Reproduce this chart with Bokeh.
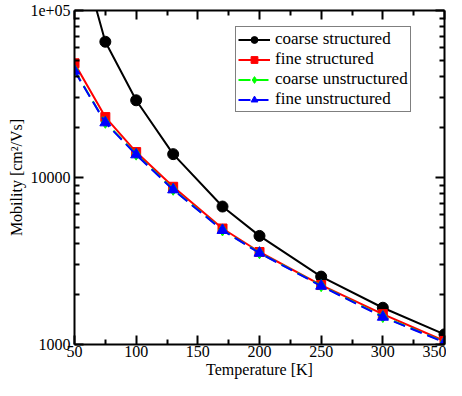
from bokeh.plotting import figure
from bokeh.models import (LinearAxis, LogAxis, FixedTicker, Range1d, Legend, LegendItem,
                          CustomJSTickFormatter)
from bokeh.embed import file_html
from bokeh.resources import INLINE

temps = [50, 75, 100, 130, 170, 200, 250, 300, 350]
coarse_structured = [300000, 65000, 29000, 13800, 6700, 4470, 2550, 1660, 1150]
fine_structured = [48300, 23000, 14200, 8800, 4950, 3580, 2270, 1520, 1050]
coarse_unstructured = [43800, 21400, 13800, 8500, 4850, 3540, 2250, 1470, 1035]
fine_unstructured = [43500, 21300, 13700, 8450, 4830, 3530, 2240, 1460, 1030]

x_ticks = [50, 100, 150, 200, 250, 300, 350]
x_minor = [75, 125, 175, 225, 275, 325]
y_ticks = [1000, 10000, 100000]
y_tick_labels = ["1000", "10000", "1e+05"]
y_minor = [m * d for d in (1000, 10000) for m in range(2, 10)]

FONT = "Liberation Serif"

p = figure(width=446, height=380, y_axis_type="log", output_backend="svg",
           toolbar_location=None, x_range=Range1d(50, 350), y_range=Range1d(1000, 100000),
           min_border_left=74, min_border_right=2, min_border_top=10, min_border_bottom=35)
p.xgrid.visible = False
p.ygrid.visible = False
p.outline_line_color = None
p.background_fill_color = "white"

r1 = p.line(temps, coarse_structured, line_color="black", line_width=2)
m1 = p.scatter(temps, coarse_structured, marker="circle", size=11, color="black")
r2 = p.line(temps, fine_structured, line_color="red", line_width=2)
m2 = p.scatter(temps, fine_structured, marker="square", size=9, color="red")
r3 = p.line(temps, coarse_unstructured, line_color="#00ff00", line_width=2, line_dash="12 6")
m3 = p.scatter(temps, coarse_unstructured, marker="diamond", size=12, color="#00ff00")
r4 = p.line(temps, fine_unstructured, line_color="blue", line_width=2, line_dash="12 6")
m4 = p.scatter(temps, fine_unstructured, marker="triangle", size=11, color="blue")

def style_axis(ax, labels=True):
    ax.axis_line_width = 2
    ax.axis_line_color = "black"
    ax.major_tick_in = 9
    ax.major_tick_out = 0
    ax.minor_tick_in = 5
    ax.minor_tick_out = 0
    ax.major_tick_line_width = 2
    ax.minor_tick_line_width = 2
    ax.major_label_text_font = FONT
    ax.major_label_text_font_size = "16px"
    ax.major_label_text_color = "black"
    ax.axis_label_text_font = FONT
    ax.axis_label_text_font_size = "16px"
    ax.axis_label_text_font_style = "normal"
    ax.axis_label_text_color = "black"
    if not labels:
        ax.formatter = CustomJSTickFormatter(code="return '';")
        ax.major_label_text_font_size = "1px"
        ax.major_label_standoff = 0

xt = FixedTicker(ticks=x_ticks, minor_ticks=x_minor)
yt = FixedTicker(ticks=y_ticks, minor_ticks=y_minor)

xa = p.xaxis[0]
xa.ticker = xt
xa.axis_label = "Temperature [K]"
xa.axis_label_standoff = 1
xa.major_label_standoff = 1
style_axis(xa)

ya = p.yaxis[0]
ya.ticker = yt
ya.major_label_overrides = {t: l for t, l in zip(y_ticks, y_tick_labels)}
ya.axis_label = "Mobility [cm\u00b2/Vs]"
ya.axis_label_standoff = 2
ya.major_label_standoff = 4
style_axis(ya)

top = LinearAxis(ticker=xt)
style_axis(top, labels=False)
p.add_layout(top, "above")
right = LogAxis(ticker=yt)
style_axis(right, labels=False)
p.add_layout(right, "right")

legend = Legend(items=[
    LegendItem(label="coarse structured", renderers=[r1, m1]),
    LegendItem(label="fine structured", renderers=[r2, m2]),
    LegendItem(label="coarse unstructured", renderers=[r3, m3]),
    LegendItem(label="fine unstructured", renderers=[r4, m4]),
], location=(161, 232))
legend.label_text_font = FONT
legend.label_text_font_size = "17px"
legend.label_text_color = "black"
legend.border_line_color = "black"
legend.border_line_width = 1.5
legend.background_fill_alpha = 1
legend.glyph_width = 32
legend.glyph_height = 17
legend.label_height = 17
legend.spacing = 0
legend.padding = 2
legend.margin = 0
legend.label_standoff = 5
p.add_layout(legend)

open("out.html", "w").write(file_html(p, INLINE))
